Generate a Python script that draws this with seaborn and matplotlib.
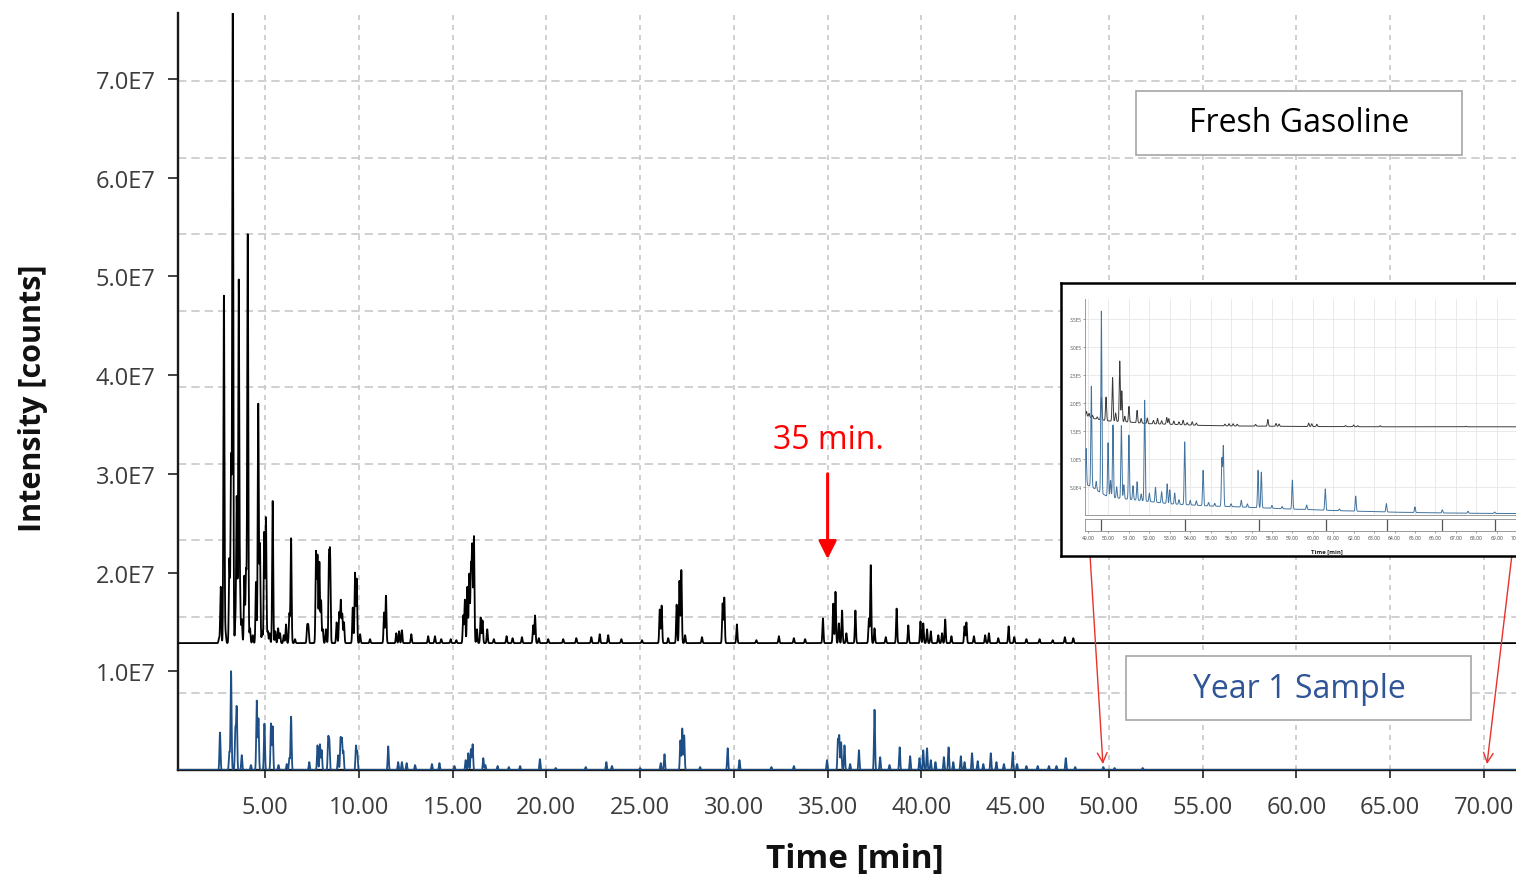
import numpy as np
import pandas as pd
import matplotlib
matplotlib.use("Agg")
import matplotlib.pyplot as plt
import seaborn as sns
from matplotlib.ticker import MultipleLocator, FixedLocator, FuncFormatter
from matplotlib.patches import Rectangle

# ------------------------------------------------------------------ data
# Main chromatogram: retention time [min] and peak height above baseline [1E7 counts]
fresh_baseline = 1.285  # 1E7 counts (Fresh Gasoline trace is offset)
fresh_rt = [2.55, 2.64, 2.81, 2.90, 3.10, 3.19, 3.28, 3.42, 3.49, 3.60, 3.67, 3.76, 3.90, 3.99,
            4.08, 4.20, 4.35, 4.52, 4.64, 4.73, 4.85, 4.96, 5.05, 5.15, 5.25, 5.41, 5.55, 5.70,
            5.80, 6.00, 6.12, 6.30, 6.39, 6.60, 7.25, 7.31, 7.72, 7.80, 7.90, 7.99, 8.08, 8.25,
            8.41, 8.47, 8.82, 8.96, 9.04, 9.12, 9.21, 9.68, 9.80, 9.89, 10.07, 10.6, 11.35, 11.45,
            12.00, 12.15, 12.30, 12.80, 13.70, 14.06, 14.4, 14.9, 15.20, 15.57, 15.66, 15.79,
            15.89, 15.98, 16.05, 16.14, 16.30, 16.50, 16.60, 16.85, 17.20, 17.88, 18.20, 18.70,
            19.30, 19.40, 19.60, 20.10, 20.90, 21.60, 22.40, 22.85, 23.30, 24.00, 25.10, 26.05,
            26.15, 26.50, 26.95, 27.10, 27.20, 27.40, 28.30, 29.40, 29.49, 30.16, 31.20, 32.40,
            33.20, 33.80, 34.75, 35.30, 35.42, 35.60, 35.77, 36.00, 36.48, 37.20, 37.30, 37.50,
            38.10, 38.68, 39.30, 39.95, 40.10, 40.30, 40.50, 40.90, 41.10, 41.27, 41.60, 42.30,
            42.40, 42.80, 43.40, 43.60, 44.10, 44.65, 44.95, 45.60, 46.30, 47.00, 47.65, 48.10]
fresh_h = [0.05, 0.57, 3.52, 0.10, 0.85, 1.88, 6.60, 0.20, 1.48, 3.66, 0.50, 0.24, 0.68, 0.73,
           4.14, 0.15, 0.08, 0.62, 2.42, 1.00, 0.12, 1.12, 1.27, 0.12, 0.10, 1.44, 0.12, 0.15,
           0.10, 0.08, 0.19, 0.30, 1.06, 0.04, 0.17, 0.17, 0.92, 0.88, 0.82, 0.43, 0.14, 0.14,
           0.82, 0.86, 0.21, 0.31, 0.43, 0.29, 0.21, 0.36, 0.71, 0.65, 0.09, 0.04, 0.31, 0.48,
           0.10, 0.12, 0.13, 0.09, 0.07, 0.07, 0.04, 0.04, 0.03, 0.28, 0.44, 0.57,
           0.70, 0.77, 0.97, 1.08, 0.14, 0.26, 0.23, 0.14, 0.04, 0.07, 0.05, 0.06,
           0.18, 0.28, 0.05, 0.04, 0.04, 0.05, 0.06, 0.09, 0.08, 0.04, 0.03, 0.34,
           0.38, 0.05, 0.39, 0.63, 0.74, 0.08, 0.06, 0.40, 0.46, 0.19, 0.03, 0.07,
           0.05, 0.04, 0.25, 0.40, 0.52, 0.20, 0.33, 0.10, 0.33, 0.25, 0.79, 0.15,
           0.06, 0.35, 0.18, 0.22, 0.20, 0.14, 0.12, 0.08, 0.10, 0.24, 0.07, 0.17,
           0.21, 0.07, 0.08, 0.10, 0.05, 0.17, 0.06, 0.04, 0.04, 0.03, 0.06, 0.05]

year1_rt = [2.60, 3.10, 3.19, 3.42, 3.49, 3.76, 4.25, 4.56, 4.65, 4.97, 5.32, 5.41, 5.72, 6.16,
            6.30, 6.39, 7.36, 7.80, 7.93, 8.02, 8.37, 8.43, 8.90, 9.03, 9.10, 9.18, 9.85, 9.92,
            11.57, 12.10, 12.30, 12.55, 13.00, 13.90, 14.30, 15.10, 15.70, 15.84, 15.98, 16.07,
            16.64, 16.75, 17.40, 18.00, 18.60, 19.66, 20.50, 22.10, 23.20, 23.50, 25.00, 26.10,
            26.30, 27.15, 27.25, 27.35, 28.20, 29.67, 30.30, 32.00, 33.20, 34.97, 35.55, 35.62,
            35.72, 35.90, 36.20, 36.67, 37.50, 37.80, 38.30, 38.84, 39.40, 39.90, 40.10, 40.30,
            40.50, 40.75, 41.20, 41.45, 41.70, 42.10, 42.30, 42.70, 43.00, 43.30, 43.70, 44.00,
            44.40, 44.87, 45.10, 45.60, 46.20, 46.80, 47.20, 47.70, 48.20, 49.70, 50.30, 51.80]
year1_h = [0.38, 0.18, 1.00, 0.41, 0.63, 0.15, 0.05, 0.70, 0.52, 0.47, 0.47, 0.44, 0.05, 0.06,
           0.12, 0.54, 0.08, 0.25, 0.26, 0.20, 0.31, 0.28, 0.15, 0.32, 0.31, 0.19, 0.24, 0.18,
           0.24, 0.08, 0.08, 0.07, 0.05, 0.06, 0.07, 0.04, 0.10, 0.17, 0.21, 0.26,
           0.12, 0.05, 0.04, 0.03, 0.04, 0.11, 0.02, 0.03, 0.08, 0.04, 0.02, 0.07,
           0.16, 0.30, 0.42, 0.35, 0.03, 0.22, 0.10, 0.03, 0.04, 0.10, 0.30, 0.34,
           0.28, 0.25, 0.06, 0.20, 0.61, 0.13, 0.05, 0.23, 0.14, 0.12, 0.20, 0.22,
           0.10, 0.08, 0.13, 0.23, 0.08, 0.14, 0.08, 0.17, 0.09, 0.06, 0.17, 0.08,
           0.06, 0.18, 0.06, 0.04, 0.04, 0.04, 0.04, 0.12, 0.03, 0.03, 0.02, 0.02]

# Inset (49-70 min zoom): baseline knots and peaks, in 1E5 counts
inset_fresh_base_t = [48.85, 49.3, 50.0, 51.0, 52.0, 53.0, 54.5, 56.0, 58.0, 60.0, 63.0, 66.0, 70.8]
inset_fresh_base_v = [1.78, 1.72, 1.68, 1.66, 1.63, 1.62, 1.60, 1.59, 1.585, 1.58, 1.575, 1.575, 1.575]
inset_fresh_rt = [48.92, 49.05, 49.22, 49.45, 49.65, 49.88, 50.20, 50.35, 50.55, 50.65, 50.80, 51.00,
                  51.40, 51.60, 51.90, 52.20, 52.40, 52.60, 52.85, 52.95, 53.20, 53.45, 53.65, 53.85,
                  54.10, 54.30, 55.70, 55.90, 56.10, 56.30, 57.20, 57.80, 58.20, 58.35, 59.80, 59.95,
                  60.20, 61.60, 62.00, 62.20, 63.30, 67.50]
inset_fresh_h = [0.08, 0.06, 0.05, 0.04, 0.40, 0.42, 0.78, 0.15, 1.08, 0.55, 0.10, 0.28,
                 0.22, 0.08, 0.10, 0.06, 0.10, 0.06, 0.12, 0.10, 0.06, 0.05, 0.08, 0.04,
                 0.06, 0.04, 0.03, 0.04, 0.04, 0.03, 0.03, 0.12, 0.05, 0.04, 0.06, 0.05,
                 0.04, 0.02, 0.03, 0.02, 0.02, 0.01]
inset_year1_base_t = [48.85, 49.2, 49.6, 50.0, 50.5, 51.0, 52.0, 53.0, 54.0, 55.0, 56.0, 57.0,
                      58.0, 59.0, 60.0, 61.0, 62.0, 64.0, 66.0, 68.0, 70.8]
inset_year1_base_v = [0.55, 0.50, 0.40, 0.32, 0.30, 0.28, 0.24, 0.20, 0.18, 0.16, 0.15, 0.135,
                      0.12, 0.105, 0.095, 0.08, 0.07, 0.05, 0.038, 0.03, 0.025]
inset_year1_rt = [48.90, 49.16, 49.40, 49.65, 49.98, 50.10, 50.22, 50.40, 50.63, 50.75, 51.00, 51.20,
                  51.40, 51.60, 51.77, 52.00, 52.30, 52.60, 52.87, 53.00, 53.24, 53.45, 53.73, 54.00,
                  54.30, 54.63, 54.90, 55.20, 55.55, 55.62, 56.00, 56.50, 56.80, 57.32, 57.48, 58.00,
                  58.50, 59.00, 59.70, 60.61, 61.30, 62.10, 63.60, 65.00, 66.34, 67.60, 68.90]
inset_year1_h = [0.65, 1.80, 0.15, 3.25, 0.97, 0.30, 1.30, 0.20, 1.30, 0.25, 1.15, 0.25,
                 0.33, 0.12, 1.80, 0.15, 0.27, 0.20, 0.35, 0.25, 0.20, 0.08, 1.12, 0.08,
                 0.08, 0.63, 0.06, 0.05, 0.85, 1.07, 0.05, 0.12, 0.06, 0.67, 0.64, 0.05,
                 0.04, 0.52, 0.08, 0.38, 0.03, 0.27, 0.15, 0.10, 0.055, 0.035, 0.025]
inset_event_t = [49.65, 53.73, 57.35, 60.63, 63.62, 66.33, 68.90]

x_ticks = [5, 10, 15, 20, 25, 30, 35, 40, 45, 50, 55, 60, 65, 70]
y_ticks = [1e7, 2e7, 3e7, 4e7, 5e7, 6e7, 7e7]
inset_x_ticks = list(range(49, 71))
inset_y_ticks = [5e4, 1e5, 1.5e5, 2e5, 2.5e5, 3e5, 3.5e5]

# ------------------------------------------------------------------ helpers
def trace(t, rt, h, base, width):
    y = np.zeros_like(t) + base
    for r, a in zip(rt, h):
        y = y + a * np.exp(-0.5 * ((t - r) / width) ** 2)
    return y

W, H = 1516, 878
sns.set_theme(style="white")
plt.rcParams["font.family"] = ["Open Sans", "DejaVu Sans"]

fig = plt.figure(figsize=(W / 100, H / 100), dpi=100)
ax = fig.add_axes([178 / W, 1 - 771 / H, (W - 178) / W, (771 - 14) / H])

XMIN, XMAX = 0.361, 71.706
t = np.arange(XMIN, XMAX, 0.004)
fresh_y = trace(t, fresh_rt, fresh_h, fresh_baseline, 0.028) * 1e7
year1_y = trace(t, year1_rt, year1_h, 0.0, 0.028) * 1e7
df = pd.DataFrame({"t": t, "fresh": fresh_y, "year1": year1_y})

ax.set_axisbelow(True)
sns.lineplot(data=df, x="t", y="fresh", ax=ax, color="black", lw=1.3,
             estimator=None, sort=False, zorder=3)
sns.lineplot(data=df, x="t", y="year1", ax=ax, color="#1d4f86", lw=1.3,
             estimator=None, sort=False, zorder=3)

ax.set_xlim(XMIN, XMAX)
ax.set_ylim(0, 7.666e7)
ax.xaxis.set_major_locator(FixedLocator(x_ticks))
ax.xaxis.set_major_formatter(FuncFormatter(lambda v, _: f"{v:.2f}"))
ax.yaxis.set_major_locator(FixedLocator(y_ticks))
ax.yaxis.set_major_formatter(FuncFormatter(lambda v, _: f"{v / 1e7:.1f}E7"))
ax.yaxis.set_minor_locator(MultipleLocator(7.75e6))

ax.grid(which="major", axis="x", color="#c8c8c8", lw=1.2, linestyle=(0, (3, 3)))
ax.grid(which="minor", axis="y", color="#c8c8c8", lw=1.2, linestyle=(0, (5, 3)))
ax.grid(which="major", axis="y", visible=False)

for s in ["top", "right"]:
    ax.spines[s].set_visible(False)
for s in ["left", "bottom"]:
    ax.spines[s].set_color("#1a1a1a")
    ax.spines[s].set_linewidth(1.7)

ax.tick_params(axis="x", which="major", direction="out", length=6, width=1.3,
               color="#333333", labelsize=17, labelcolor="#3c3c3c", pad=12, bottom=True)
ax.tick_params(axis="y", which="major", direction="out", length=7, width=1.3,
               color="#333333", labelsize=17, labelcolor="#3c3c3c", pad=9, left=True)
ax.tick_params(axis="y", which="minor", length=0)

ax.set_xlabel("Time [min]", fontsize=24, fontweight="bold", color="#111111")
ax.xaxis.set_label_coords((855 - 178) / (W - 178), -(860 - 771) / (771 - 14))
ax.xaxis.label.set_va("center")
ax.set_ylabel("Intensity [counts]", fontsize=22, fontweight="bold", color="#111111")
ax.yaxis.set_label_coords((33 - 178) / (W - 178), (771 - 398) / (771 - 14))
ax.yaxis.label.set_va("center")
ax.yaxis.label.set_ha("center")

# 35 min arrow
ax.annotate("", xy=(35.0, 2.137e7), xytext=(35.0, 3.0e7),
            arrowprops=dict(arrowstyle="-|>,head_length=0.6,head_width=0.3",
                            color="#ff0000", lw=2.2, mutation_scale=18,
                            shrinkA=0, shrinkB=0), zorder=6)
ax.text(35.05, 3.35e7, "35 min.", color="#ff0000", fontsize=23,
        ha="center", va="center", zorder=6)

# red lines from the inset to the x-axis
for (x0, x1) in [(48.99, 49.68), (71.49, 70.16)]:
    ax.annotate("", xy=(x1, 0.06e7), xytext=(x0, 2.18e7),
                arrowprops=dict(arrowstyle="->,head_length=0.5,head_width=0.25",
                                color="#e8322c", lw=1.0, mutation_scale=14,
                                shrinkA=0, shrinkB=0),
                annotation_clip=False, zorder=6)

# label boxes
fig.patches.append(Rectangle((1136 / W, 1 - 156 / H), 326 / W, 64 / H,
                             transform=fig.transFigure, facecolor="white",
                             edgecolor="#a6a6a6", lw=1.2, zorder=2))
fig.text(1299 / W, 1 - 124 / H, "Fresh Gasoline", fontsize=23, color="black",
         ha="center", va="center", zorder=3)
fig.patches.append(Rectangle((1126 / W, 1 - 721 / H), 345 / W, 64 / H,
                             transform=fig.transFigure, facecolor="white",
                             edgecolor="#a6a6a6", lw=1.2, zorder=2))
fig.text(1299 / W, 1 - 690 / H, "Year 1 Sample", fontsize=23, color="#2f5597",
         ha="center", va="center", zorder=3)

# ------------------------------------------------------------------ inset
frame = fig.add_axes([1061 / W, 1 - 557 / H, (1570 - 1061) / W, (557 - 284) / H], zorder=4)
frame.set_xticks([])
frame.set_yticks([])
frame.set_facecolor("white")
for s in frame.spines.values():
    s.set_visible(True)
    s.set_color("black")
    s.set_linewidth(1.8)

IX0 = 48.85
IPX = 20.43
iw = 1532 - 1085
IX1 = IX0 + iw / IPX
ins = fig.add_axes([1085 / W, 1 - 516 / H, iw / W, (516 - 300) / H], zorder=5)
ins.patch.set_alpha(0)
ti = np.arange(IX0, IX1, 0.004)
f_base = np.interp(ti, inset_fresh_base_t, inset_fresh_base_v)
y_base = np.interp(ti, inset_year1_base_t, inset_year1_base_v)
dfi = pd.DataFrame({"t": ti,
                    "fresh": trace(ti, inset_fresh_rt, inset_fresh_h, f_base, 0.025) * 1e5,
                    "year1": trace(ti, inset_year1_rt, inset_year1_h, y_base, 0.025) * 1e5})
sns.lineplot(data=dfi, x="t", y="fresh", ax=ins, color="#3a3a3a", lw=0.7,
             estimator=None, sort=False)
sns.lineplot(data=dfi, x="t", y="year1", ax=ins, color="#41739f", lw=0.7,
             estimator=None, sort=False)
ins.set_xlim(IX0, IX1)
ins.set_ylim(0, 3.857e5)
ins.xaxis.set_major_locator(FixedLocator(inset_x_ticks))
ins.yaxis.set_major_locator(FixedLocator(inset_y_ticks))


def sci(v, _):
    e = int(np.floor(np.log10(v)))
    return f"{v / 10 ** e:.1f}E{e}"


ins.yaxis.set_major_formatter(FuncFormatter(sci))
ins.grid(True, color="#e6e6e6", lw=0.6, linestyle="-")
ins.set_xlabel("")
ins.set_ylabel("")
ins.tick_params(axis="x", labelbottom=False, length=0)
ins.tick_params(axis="y", labelsize=3.4, labelcolor="#555555", length=1.5, width=0.5,
                pad=1, left=True, color="#777777")
for s in ["top", "right"]:
    ins.spines[s].set_visible(False)
for s in ["left", "bottom"]:
    ins.spines[s].set_color("#8a8a8a")
    ins.spines[s].set_linewidth(0.6)

ev = fig.add_axes([1085 / W, 1 - 532 / H, iw / W, 12 / H], zorder=5)
ev.set_facecolor("white")
ev.set_xlim(IX0, IX1)
ev.set_ylim(0, 1)
ev.vlines(inset_event_t, 0, 1, color="#555555", lw=0.9)
ev.set_yticks([])
ev.xaxis.set_major_locator(FixedLocator(inset_x_ticks))
ev.xaxis.set_major_formatter(FuncFormatter(lambda v, _: f"{v:.2f}"))
ev.tick_params(axis="x", labelsize=3.6, labelcolor="#444444", length=1.5, width=0.5,
               pad=1.5, bottom=True, color="#777777")
for s in ev.spines.values():
    s.set_color("#8a8a8a")
    s.set_linewidth(0.6)
ev.text((1327 - 1085) / iw, -1.6, "Time [min]", transform=ev.transAxes,
        ha="center", va="center", fontsize=4.3, fontweight="bold", color="#222222")

fig.savefig("out.png", dpi=100)
